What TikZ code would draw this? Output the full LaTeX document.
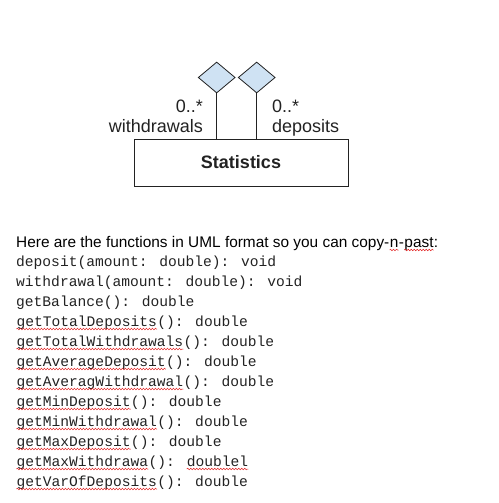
\documentclass[tikz,border=0pt]{standalone}
\usepackage{fontspec}
\usepackage{xcolor}
\usepackage{tikz}
\usetikzlibrary{shapes.geometric,decorations.pathmorphing}
\newfontfamily\arialfont{Liberation Sans}
\newfontfamily\courierfont{Liberation Mono}
\definecolor{ink}{HTML}{222222}
\definecolor{diafill}{HTML}{CFE2F3}
\definecolor{spellred}{HTML}{E02020}
\tikzset{
  line/.style={draw=ink, line width=1pt},
  agg/.style={diamond, draw=ink, fill=diafill, line width=0.8pt, minimum width=37pt, minimum height=31pt, inner sep=0pt},
  cls/.style={rectangle, draw=ink, line width=1pt, minimum width=214pt, minimum height=47pt, text=ink, font=\arialfont\fontsize{18}{20}\selectfont\bfseries},
  role/.style={text=ink, inner sep=0pt, font=\arialfont\fontsize{18}{20}\selectfont},
  note/.style={anchor=base west, inner sep=0pt, text=black, font=\arialfont\fontsize{15.4}{18}\selectfont},
  code/.style={anchor=base west, inner sep=0pt, text=ink, font=\courierfont\fontsize{14.6}{16}\selectfont},
  squig/.style={draw=spellred, line width=0.5pt, decorate, decoration={snake, segment length=3pt, amplitude=0.8pt}}
}
\newcommand\spell[1]{\tikz[baseline=(w.base)]{\node[inner sep=0pt] (w) {#1};\draw[squig] ([yshift=-3pt]w.base west) -- ([yshift=-3pt]w.base east);}}

\begin{document}
\begin{tikzpicture}[x=1pt,y=-1pt]
  \useasboundingbox (0,0) rectangle (498,503);
  % class and aggregations
  \node[cls] (stats) at (241,162.5) {Statistics};
  \node[agg] (dw) at (216.7,77.5) {};
  \node[agg] (dd) at (256.7,77.5) {};
  \draw[line] (dw.south) -- (dw.south |- stats.north);
  \draw[line] (dd.south) -- (dd.south |- stats.north);
  \node[role,anchor=base east] (mw) at (203,112) {0..*};
  \node[role,anchor=base east] (nw) at (203,132) {withdrawals};
  \node[role,anchor=base west] (md) at (272,112) {0..*};
  \node[role,anchor=base west] (nd) at (272,132) {deposits};
  % functions
  \node[note] (head) at (16,247) {Here are the functions in UML format so you can copy-\spell{n}-\spell{past}:};
  \foreach \t [count=\i] in {
    {deposit(amount: double): void},
    {withdrawal(amount: double): void},
    {getBalance(): double},
    {\spell{getTotalDeposits}(): double},
    {\spell{getTotalWithdrawals}(): double},
    {\spell{getAverageDeposit}(): double},
    {\spell{getAveragWithdrawal}(): double},
    {\spell{getMinDeposit}(): double},
    {\spell{getMinWithdrawal}(): double},
    {\spell{getMaxDeposit}(): double},
    {\spell{getMaxWithdrawa}(): \spell{doublel}},
    {\spell{getVarOfDeposits}(): double}}
    \node[code] (f\i) at (16,{246+20*\i}) {\t};
\end{tikzpicture}
\end{document}
